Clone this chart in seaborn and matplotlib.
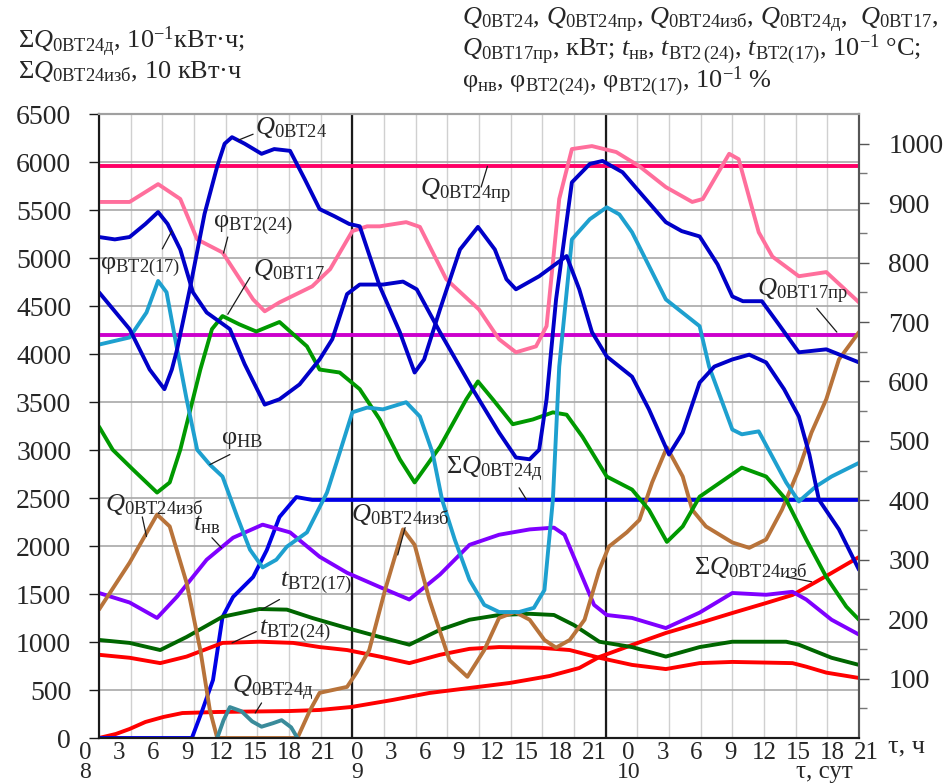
import numpy as np
import pandas as pd
import matplotlib
matplotlib.use("Agg")
import matplotlib.pyplot as plt
import seaborn as sns

# ---- data (hours from 0:00 of day 8) ----
# right axis: kW, 10^-1 C, 10^-1 %
q24_h = [0, 2.9, 4.8, 6.2, 6.9, 7.4, 8.6, 10.0, 11.2, 11.9, 12.6, 13.8, 15.4, 16.6, 18.1, 19.5, 20.9,
         22.3, 23.7, 24.7, 26.6, 28.5, 29.9, 30.8, 32.3, 34.2, 35.9, 37.5, 38.6, 39.5, 41.7, 44.3,
         45.5, 46.7, 48.1, 50.5, 52.1, 54.0, 55.3, 56.9, 58.3, 60.0, 61.6, 63.2, 64.9, 66.3, 67.3,
         68.2, 70.1, 72]
q24_v = [750, 688, 620, 587, 620, 654, 755, 882, 962, 1000, 1011, 1000, 983, 991, 988, 940, 890,
         878, 865, 861, 760, 683, 615, 637, 721, 822, 860, 822, 772, 755, 777, 811,
         755, 683, 642, 608, 553, 477, 514, 598, 625, 637, 645, 632, 587, 541, 477,
         401, 351, 283]

phi17_h = [0, 1.5, 2.9, 4.4, 5.6, 6.5, 7.7, 8.9, 10.2, 12.4, 13.8, 15.7, 17.1, 19.0, 20.9, 22.1,
           23.5, 24.7, 26.9, 28.8, 30.1, 32.3, 35.4, 37.9, 39.5, 40.8, 41.7, 42.4, 43.3, 44.8,
           46.5, 47.7, 49.6, 51.2, 53.7, 55.2, 56.9, 58.6, 60.0, 61.0, 62.8, 64.4, 66.3, 68.9, 72]
phi17_v = [843, 839, 843, 865, 885, 865, 822, 750, 716, 688, 629, 561, 570, 595, 637, 671,
           747, 763, 763, 768, 755, 683, 587, 514, 472, 469, 485, 570, 738, 935,
           966, 971, 952, 919, 868, 853, 844, 797, 743, 735, 735, 696, 649, 654, 632]

phi24_h = [0, 2.9, 5.6, 7.7, 9.3, 11.7, 14.6, 15.7, 17.1, 20.2, 21.9, 24.0, 25.4, 26.6, 29.1, 30.4,
           32.9, 36.0, 37.9, 39.5, 41.4, 42.4, 43.6, 44.8, 46.7, 49.0, 51.2, 53.7, 56.2, 57.2,
           59.7, 60.6, 62.5, 63.8, 66.3, 68.9, 72]
phi24_v = [902, 902, 932, 907, 839, 817, 738, 718, 733, 760, 789, 853, 861, 861, 868, 860,
           772, 721, 671, 649, 659, 693, 907, 991, 996, 986, 962, 927, 902, 907,
           983, 974, 851, 810, 777, 784, 733]

phinv_h = [0, 2.9, 4.5, 5.6, 6.4, 7.4, 8.3, 9.3, 10.5, 11.7, 13.1, 14.3, 15.5, 16.8, 17.8, 19.7,
           21.6, 22.8, 24.0, 25.4, 26.9, 29.1, 30.4, 31.6, 32.5, 33.7, 35.1, 36.5, 37.9, 39.8,
           41.2, 42.2, 43.0, 43.6, 44.8, 46.5, 48.1, 49.3, 50.5, 53.7, 56.9, 57.8, 60.0, 60.9,
           62.5, 65.1, 66.3, 67.9, 69.4, 72]
phinv_v = [662, 674, 716, 769, 750, 654, 570, 485, 460, 440, 372, 317, 287, 300, 322, 346,
           413, 480, 548, 556, 553, 565, 541, 480, 401, 334, 266, 224, 212, 212,
           219, 249, 401, 625, 839, 873, 893, 881, 851, 738, 693, 625, 519, 511,
           516, 430, 398, 423, 440, 463]

q17_h = [0, 1.3, 3.2, 5.5, 6.7, 7.7, 9.6, 10.7, 11.7, 13.3, 14.9, 17.1, 19.7, 20.9, 22.8, 24.7,
         26.6, 28.5, 29.9, 32.3, 34.8, 35.9, 37.3, 39.2, 41.1, 43.0, 44.3, 45.8, 48.1, 50.5,
         52.1, 53.8, 55.3, 56.9, 60.9, 63.2, 65.1, 67.0, 68.9, 70.8, 72]
q17_v = [524, 485, 452, 413, 430, 485, 620, 688, 710, 696, 684, 700, 659, 620, 615, 587,
         536, 469, 430, 490, 570, 600, 570, 528, 536, 548, 544, 507, 440, 418,
         384, 330, 356, 406, 455, 440, 401, 334, 271, 221, 199]

q24izb_h = [0, 2.9, 5.5, 6.7, 8.3, 9.6, 10.5, 11.2, 18.8, 20.0, 20.9, 23.5, 24.4, 25.6, 27.1,
            28.8, 29.9, 31.3, 33.2, 34.9, 36.5, 37.9, 39.4, 40.8, 42.2, 43.3, 44.6, 46.0, 47.4,
            48.3, 50.0, 51.2, 52.4, 53.8, 55.3, 56.2, 57.5, 60.0, 61.6, 63.2, 64.7, 66.3, 67.5,
            68.9, 70.1, 72]
q24izb_v = [216, 295, 376, 356, 261, 148, 47, 0, 0, 47, 76, 86, 110, 148, 249,
            351, 325, 233, 131, 103, 148, 202, 212, 199, 165, 152, 165, 199, 283,
            322, 346, 367, 430, 489, 440, 384, 356, 329, 320, 334, 384, 452, 514,
            570, 637, 683]

q24d_h = [11.2, 11.8, 12.4, 13.5, 14.5, 15.4, 16.5, 17.3, 18.2, 18.8]
q24d_v = [0, 30, 52, 45, 28, 19, 25, 30, 18, 0]

tnv_h = [0, 2.9, 5.5, 7.4, 10.2, 12.7, 15.5, 18.1, 20.9, 23.5, 26.6, 29.4, 32.3, 35.1, 37.9,
         40.8, 43.1, 44.1, 45.5, 46.9, 48.1, 50.5, 53.7, 56.9, 60.0, 63.2, 65.7, 67.0, 69.4, 72]
tnv_v = [244, 228, 202, 238, 300, 337, 359, 346, 305, 278, 254, 233, 275, 325, 342,
         351, 354, 342, 283, 224, 207, 202, 185, 211, 244, 241, 246, 233, 199, 174]

t17_h = [0, 2.9, 5.8, 8.3, 11.7, 15.2, 17.8, 20.2, 23.5, 26.6, 29.4, 32.3, 35.1, 37.9, 40.8,
         43.1, 45.0, 47.4, 50.5, 53.7, 56.9, 60.0, 65.1, 66.3, 69.4, 72]
t17_v = [165, 160, 148, 170, 204, 217, 216, 202, 185, 170, 157, 182, 199, 207, 209,
         207, 190, 162, 153, 137, 153, 162, 162, 157, 135, 123]

t24_h = [0, 2.9, 5.8, 8.3, 11.7, 15.2, 18.4, 20.9, 23.5, 26.6, 29.4, 32.3, 35.1, 37.9, 41.7,
         44.6, 47.4, 50.5, 53.7, 56.9, 60.0, 65.7, 67.0, 68.9, 72]
t24_v = [140, 135, 126, 137, 160, 162, 160, 153, 148, 137, 126, 140, 150, 153, 152,
         148, 135, 123, 116, 126, 128, 126, 120, 110, 101]

q24pr_h = [0, 72]
q24pr_v = [962, 962]
q17pr_h = [0, 72]
q17pr_v = [678, 678]

# left axis: 10^-1 kWh / 10 kWh
sumd_h = [0, 8.8, 9.8, 10.8, 11.7, 12.7, 14.6, 15.9, 17.1, 18.7, 20.2, 72]
sumd_v = [0, 0, 292, 604, 1260, 1469, 1677, 1958, 2302, 2510, 2480, 2480]

sumizb_h = [0, 1.6, 2.9, 4.4, 6.1, 7.9, 11.2, 18.1, 20.9, 23.9, 27.8, 31.3, 35.1, 38.9, 42.7,
            45.5, 47.4, 50.5, 53.7, 56.9, 60.0, 63.2, 65.7, 67.9, 69.4, 72]
sumizb_v = [0, 42, 94, 167, 219, 260, 271, 281, 292, 323, 396, 469, 521, 573, 646,
            729, 844, 969, 1094, 1198, 1302, 1406, 1490, 1625, 1719, 1885]

hour_labels = ["0", "3", "6", "9", "12", "15", "18", "21"] * 3
day_labels = ["8", "9", "10"]

# ---- style ----
sns.set_theme(style="white")
plt.rcParams["font.family"] = ["Liberation Serif", "DejaVu Serif"]
plt.rcParams["mathtext.fontset"] = "custom"
plt.rcParams["mathtext.rm"] = "Liberation Serif"
plt.rcParams["mathtext.it"] = "Liberation Serif:italic"
plt.rcParams["mathtext.bf"] = "Liberation Serif:bold"
plt.rcParams["lines.solid_joinstyle"] = "round"
plt.rcParams["lines.solid_capstyle"] = "round"

fig = plt.figure(figsize=(9.5, 7.84), dpi=100)
ax = fig.add_axes([99 / 950, 1 - 738 / 784, 760 / 950, 624 / 784])
ax2 = ax.twinx()

lw = 2.8
blue = "#0000c8"

for h, v, c in [
    (sumizb_h, sumizb_v, "#ff0000"),
    (sumd_h, sumd_v, "#0000e6"),
]:
    sns.lineplot(x=h, y=v, ax=ax, color=c, linewidth=lw, estimator=None)

for h, v, c in [
    (q24pr_h, q24pr_v, "#ff0066"),
    (q17pr_h, q17pr_v, "#cc00cc"),
    (t24_h, t24_v, "#ff0000"),
    (t17_h, t17_v, "#006600"),
    (tnv_h, tnv_v, "#7f00ff"),
    (q24izb_h, q24izb_v, "#b8733a"),
    (q24d_h, q24d_v, "#3a8b9a"),
    (q17_h, q17_v, "#009900"),
    (phinv_h, phinv_v, "#1ea0cf"),
    (phi24_h, phi24_v, "#ff6f9c"),
    (phi17_h, phi17_v, blue),
    (q24_h, q24_v, blue),
]:
    sns.lineplot(x=h, y=v, ax=ax2, color=c, linewidth=lw, estimator=None)

# axes
ax.set_xlim(0, 72)
ax.set_ylim(0, 6500)
ax2.set_ylim(0, 1050)
ax.set_xlabel("")
ax.set_ylabel("")
ax2.set_ylabel("")

ax.set_yticks(np.arange(0, 6501, 500))
ax.tick_params(axis="y", labelsize=20, length=7, width=1, pad=13, direction="out", left=True, color="k")
ax.set_xticks(np.arange(0, 73, 3))
ax.set_xticklabels([])
ax.tick_params(axis="x", length=0)
ax.grid(True, axis="y", color="#a8a8a8", linewidth=1.2)
ax.grid(True, axis="x", color="#d0d0d0", linewidth=1.0)
for d in (24, 48):
    ax.axvline(d, color="k", linewidth=1.6, zorder=1)

ax2.set_yticks(np.arange(100, 1001, 100))
ax2.set_yticks(np.arange(50, 1050, 50), minor=True)
ax2.tick_params(axis="y", which="major", labelsize=20, length=7, width=1, pad=14, direction="out", right=True, color="#555555")
ax2.tick_params(axis="y", which="minor", length=6, width=1, direction="out", right=True, color="#777777")
ax2.grid(False)

for a in (ax, ax2):
    a.spines["left"].set_color("k")
    a.spines["bottom"].set_color("k")
    a.spines["top"].set_color("#a0a0a0")
    a.spines["right"].set_color("#555555")
    for s in a.spines.values():
        s.set_linewidth(1.5)

# x labels (evenly spread as in the original drawing)
lab_pos = np.linspace(-1.3, 72.7, len(hour_labels))
hour_y = 1 - 759 / 784
day_y = 1 - 778 / 784
for p, lab in zip(lab_pos, hour_labels):
    xf = ax.transData.transform((p, 0))[0] / fig.bbox.width
    fig.text(xf, hour_y, lab, ha="center", va="baseline", fontsize=18)
for p, lab in zip(lab_pos[::8], day_labels):
    xf = ax.transData.transform((p, 0))[0] / fig.bbox.width
    fig.text(xf, day_y, lab, ha="center", va="baseline", fontsize=17)
fig.text(907 / 950, 1 - 746 / 784, "τ, ч", ha="center", va="center", fontsize=19)
fig.text(824 / 950, 1 - 778 / 784, "τ, сут", ha="center", va="baseline", fontsize=18)

# headers
fs = 19
fig.text(18 / 950, 1 - 42 / 784, r"Σ$Q_{\mathrm{0ВТ24д}}$, 10$^{\mathrm{-1}}$кВт·ч;", fontsize=fs, va="center")
fig.text(18 / 950, 1 - 72 / 784, r"Σ$Q_{\mathrm{0ВТ24изб}}$, 10 кВт·ч", fontsize=fs, va="center")
fig.text(462 / 950, 1 - 20 / 784,
         r"$Q_{\mathrm{0ВТ24}}$, $Q_{\mathrm{0ВТ24пр}}$, $Q_{\mathrm{0ВТ24изб}}$, $Q_{\mathrm{0ВТ24д}}$,  $Q_{\mathrm{0ВТ17}}$,",
         fontsize=fs, va="center")
fig.text(462 / 950, 1 - 50 / 784,
         r"$Q_{\mathrm{0ВТ17пр}}$, кВт; $t_{\mathrm{нв}}$, $t_{\mathrm{ВТ2\,(24)}}$, $t_{\mathrm{ВТ2(17)}}$, 10$^{\mathrm{-1}}$ °C;",
         fontsize=fs, va="center")
fig.text(462 / 950, 1 - 82 / 784,
         r"$\mathrm{φ}_{\mathrm{нв}}$, $\mathrm{φ}_{\mathrm{ВТ2(24)}}$, $\mathrm{φ}_{\mathrm{ВТ2(17)}}$, 10$^{\mathrm{-1}}$ %",
         fontsize=fs, va="center")

# curve labels with leader lines (right-axis coordinates)
labels = [
    (r"$Q_{\mathrm{0ВТ24}}$", 14.8, 1028, (14.6, 1016), (13.2, 1006)),
    (r"$\mathrm{φ}_{\mathrm{ВТ2(24)}}$", 10.8, 863, (12.2, 843), (11.8, 816)),
    (r"$\mathrm{φ}_{\mathrm{ВТ2(17)}}$", 0.1, 792, (6.0, 823), (6.9, 853)),
    (r"$Q_{\mathrm{0ВТ17}}$", 14.6, 789, (14.3, 775), (12.2, 713)),
    (r"$\mathrm{φ}_{\mathrm{НВ}}$", 11.6, 501, (12.4, 477), (10.5, 460)),
    (r"$Q_{\mathrm{0ВТ24изб}}$", 0.6, 393, (4.1, 372), (4.5, 339)),
    (r"$t_{\mathrm{нв}}$", 8.9, 359, (10.7, 337), (11.6, 320)),
    (r"$t_{\mathrm{ВТ2(17)}}$", 17.1, 261, (17.1, 233), (15.4, 216)),
    (r"$t_{\mathrm{ВТ2(24)}}$", 15.2, 180, (14.9, 179), (12.6, 160)),
    (r"$Q_{\mathrm{0ВТ24д}}$", 12.6, 84, (15.4, 59), (14.8, 42)),
    (r"$Q_{\mathrm{0ВТ24пр}}$", 30.4, 919, (36.2, 927), (36.8, 962)),
    (r"Σ$Q_{\mathrm{0ВТ24д}}$", 32.9, 452, (39.8, 421), (40.5, 401)),
    (r"$Q_{\mathrm{0ВТ24изб}}$", 23.9, 376, (29.0, 354), (28.3, 308)),
    (r"$Q_{\mathrm{0ВТ17пр}}$", 62.3, 752, (68.0, 723), (69.9, 683)),
    (r"Σ$Q_{\mathrm{0ВТ24изб}}$", 56.4, 287, (65.1, 271), (67.5, 263)),
]
for txt, tx, ty, p1, p2 in labels:
    ax2.text(tx, ty, txt, fontsize=19, ha="left", va="center", zorder=5)
    ax2.plot([p1[0], p2[0]], [p1[1], p2[1]], color="k", linewidth=0.9, zorder=5)

fig.savefig("out.png", dpi=100)
